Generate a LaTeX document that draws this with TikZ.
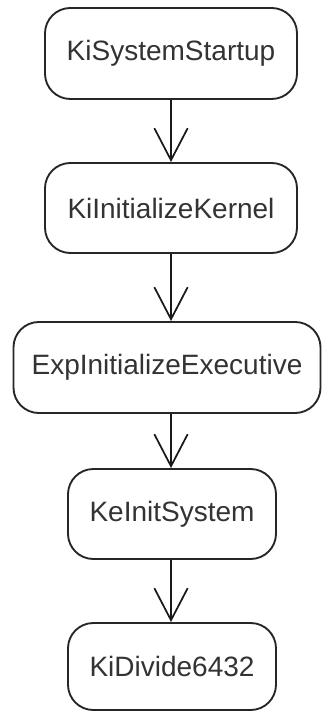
\documentclass[tikz,border=0pt]{standalone}
\usepackage{fontspec}
\setmainfont{Liberation Sans}
\usetikzlibrary{arrows.meta}
\begin{document}
\begin{tikzpicture}[x=0.75pt,y=0.75pt,
  stepbox/.style={draw=black!85, line width=1.4pt, rounded corners=19pt, fill=white,
    inner sep=0pt, font=\fontsize{21}{24}\selectfont, text=black!80},
  flow/.style={draw=black!90, line width=1.3pt, -{Straight Barb[length=24pt,width=25pt,line width=1.3pt]}}]
\useasboundingbox (0,0) rectangle (322,-712);
\node[stepbox, minimum width=252*0.75pt, minimum height=91*0.75pt] (a) at (171,-53.5) {KiSystemStartup};
\node[stepbox, minimum width=252*0.75pt, minimum height=90*0.75pt] (b) at (171,-208) {KiInitializeKernel};
\node[stepbox, minimum width=307*0.75pt, minimum height=91*0.75pt] (c) at (167,-367.5) {ExpInitializeExecutive};
\node[stepbox, minimum width=208*0.75pt, minimum height=90*0.75pt] (d) at (172,-514) {KeInitSystem};
\node[stepbox, minimum width=208*0.75pt, minimum height=87*0.75pt] (e) at (172,-666.5) {KiDivide6432};
\draw[flow] (a.south -| 171,0) -- (b.north -| 171,0);
\draw[flow] (b.south -| 171,0) -- (c.north -| 171,0);
\draw[flow] (c.south -| 171,0) -- (d.north -| 171,0);
\draw[flow] (d.south -| 171,0) -- (e.north -| 171,0);
\end{tikzpicture}
\end{document}
